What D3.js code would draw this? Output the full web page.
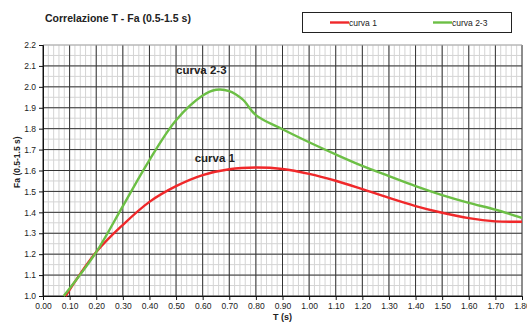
<!DOCTYPE html>
<html>
<head>
<meta charset="utf-8">
<script src="https://cdn.jsdelivr.net/npm/d3@7"></script>
<style>
  body { margin: 0; background: #fff; }
  svg { display: block; font-family: Arial, "Liberation Sans", sans-serif; }
</style>
</head>
<body>
<svg id="chart" width="527" height="322"></svg>
<script>
// values
const tCurva1 = [0.085, 0.2, 0.3, 0.4, 0.5, 0.6, 0.7, 0.8, 0.9, 1.0, 1.1, 1.2, 1.3, 1.4, 1.5, 1.6, 1.7, 1.8];
const faCurva1 = [1.0, 1.21, 1.34, 1.45, 1.525, 1.578, 1.606, 1.614, 1.607, 1.584, 1.551, 1.511, 1.469, 1.43, 1.398, 1.372, 1.357, 1.355];

const tCurva23 = [0.078, 0.2, 0.3, 0.4, 0.5, 0.6, 0.65, 0.7, 0.75, 0.8, 0.9, 1.0, 1.1, 1.2, 1.3, 1.4, 1.5, 1.6, 1.7, 1.8];
const faCurva23 = [1.0, 1.21, 1.43, 1.65, 1.84, 1.958, 1.986, 1.98, 1.94, 1.865, 1.797, 1.735, 1.677, 1.622, 1.573, 1.525, 1.482, 1.445, 1.413, 1.373];

const xTicks = d3.range(0, 18.5, 1).map(d => d / 10);
const yTicks = d3.range(10, 22.5, 1).map(d => d / 10);

const series = [
  { name: "curva 1", t: tCurva1, fa: faCurva1, color: "#f0282a" },
  { name: "curva 2-3", t: tCurva23, fa: faCurva23, color: "#6cbf45" }
];

const svg = d3.select("#chart");
const pLeft = 43, pRight = 522, pTop = 45, pBottom = 296;

const x = d3.scaleLinear().domain([0, 1.8]).range([pLeft, pRight]);
const y = d3.scaleLinear().domain([1.0, 2.2]).range([pBottom, pTop]);

// grid
const grid = svg.append("g");
grid.selectAll(".vmin").data(d3.range(0, 91).map(d => d / 50)).enter().append("line")
  .attr("x1", d => x(d)).attr("x2", d => x(d)).attr("y1", pTop).attr("y2", pBottom)
  .attr("stroke", "#d4d4d4").attr("stroke-width", 1);
grid.selectAll(".hmin").data(d3.range(20, 45).map(d => d / 20)).enter().append("line")
  .attr("y1", d => y(d)).attr("y2", d => y(d)).attr("x1", pLeft).attr("x2", pRight)
  .attr("stroke", "#d4d4d4").attr("stroke-width", 1);
grid.selectAll(".vmaj").data(xTicks).enter().append("line")
  .attr("x1", d => x(d)).attr("x2", d => x(d)).attr("y1", pTop).attr("y2", pBottom)
  .attr("stroke", "#333").attr("stroke-width", 1);
grid.selectAll(".hmaj").data(yTicks.slice(0, -1)).enter().append("line")
  .attr("y1", d => y(d)).attr("y2", d => y(d)).attr("x1", pLeft).attr("x2", pRight)
  .attr("stroke", "#333").attr("stroke-width", 1);
grid.append("line").attr("x1", pLeft).attr("x2", pRight).attr("y1", pTop).attr("y2", pTop)
  .attr("stroke", "#aaa");

// axes
const xAxis = svg.append("g").attr("transform", `translate(0,${pBottom})`)
  .call(d3.axisBottom(x).tickValues(xTicks).tickFormat(d3.format(".2f")).tickSize(4).tickPadding(3));
const yAxis = svg.append("g").attr("transform", `translate(${pLeft},0)`)
  .call(d3.axisLeft(y).tickValues(yTicks).tickFormat(d3.format(".1f")).tickSize(4).tickPadding(3));
[xAxis, yAxis].forEach(a => {
  a.selectAll("text").attr("font-size", 8.5).attr("fill", "#222").attr("font-family", "Arial, 'Liberation Sans', sans-serif");
  a.select(".domain").attr("stroke", "#111");
  a.selectAll(".tick line").attr("stroke", "#111");
});

// curves
const line = d3.line().curve(d3.curveCatmullRom.alpha(0.5));
series.forEach(s => {
  svg.append("path")
    .attr("d", line(s.t.map((t, i) => [x(t), y(s.fa[i])])))
    .attr("fill", "none").attr("stroke", s.color).attr("stroke-width", 2.4);
});

// curve labels
svg.append("text").attr("x", x(0.5)).attr("y", y(2.06)).attr("font-size", 11.5).attr("font-weight", "bold")
  .attr("fill", "#222").text("curva 2-3");
svg.append("text").attr("x", x(0.57)).attr("y", y(1.64)).attr("font-size", 11.5).attr("font-weight", "bold")
  .attr("fill", "#222").text("curva 1");

// title
svg.append("text").attr("x", 45).attr("y", 22).attr("font-size", 10.5).attr("font-weight", "bold")
  .attr("fill", "#222").text("Correlazione T - Fa (0.5-1.5 s)");

// axis titles
svg.append("text").attr("x", x(0.9)).attr("y", 320).attr("text-anchor", "middle").attr("font-size", 9)
  .attr("font-weight", "bold").attr("fill", "#222").text("T (s)");
svg.append("text").attr("transform", `translate(20,${y(1.64)}) rotate(-90)`).attr("text-anchor", "middle")
  .attr("font-size", 8.5).attr("font-weight", "bold").attr("fill", "#222").text("Fa (0.5-1.5 s)");

// legend
const lg = svg.append("g");
lg.append("rect").attr("x", 302.5).attr("y", 12.5).attr("width", 209).attr("height", 20)
  .attr("fill", "#fff").attr("stroke", "#222").attr("stroke-width", 1);
const legendX = [330, 433];
series.forEach((s, i) => {
  lg.append("line").attr("x1", legendX[i]).attr("x2", legendX[i] + 19).attr("y1", 22.5).attr("y2", 22.5)
    .attr("stroke", s.color).attr("stroke-width", 2.4);
  lg.append("text").attr("x", legendX[i] + 19).attr("y", 25.5).attr("font-size", 8.5).attr("fill", "#222").text(s.name);
});
</script>
</body>
</html>
